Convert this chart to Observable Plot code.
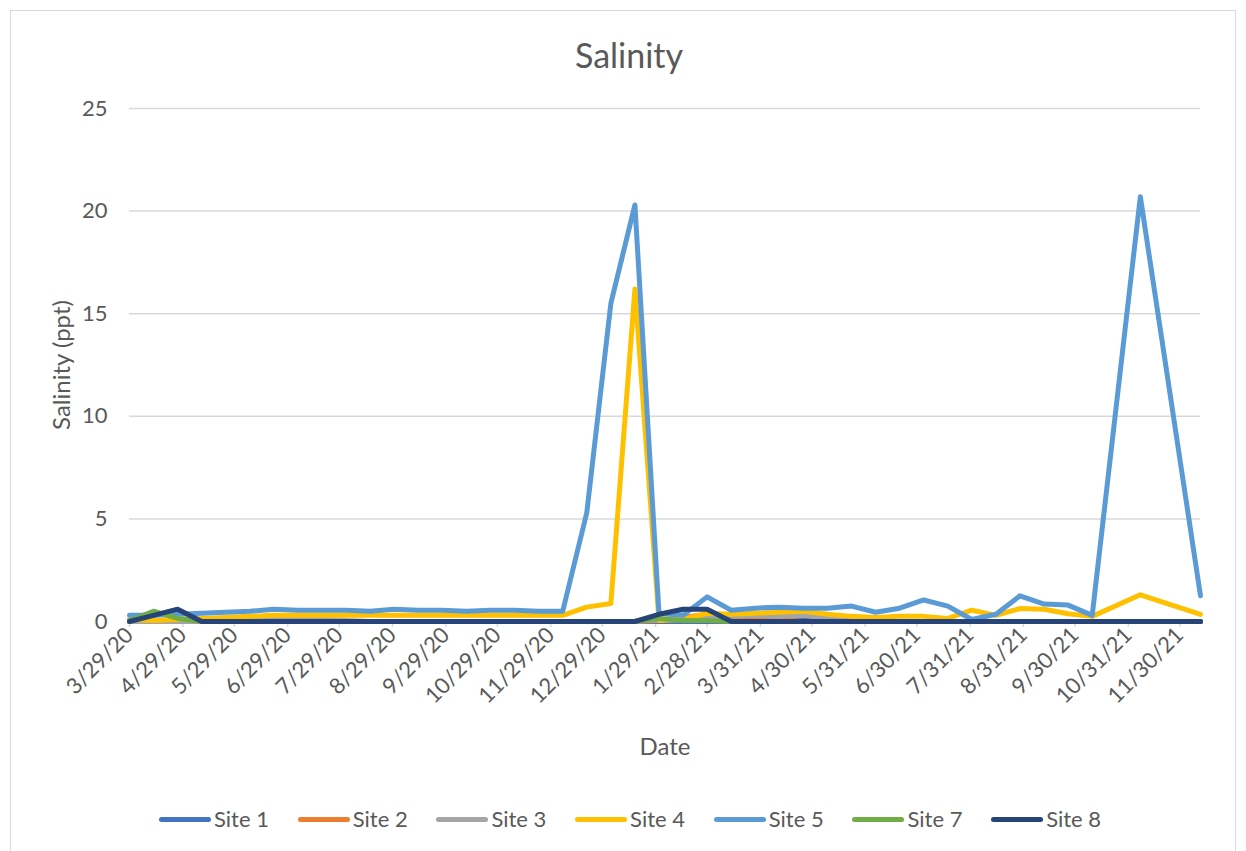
<!DOCTYPE html>
<html><head><meta charset="utf-8">
<script src="https://cdn.jsdelivr.net/npm/d3@7"></script>
<script src="https://cdn.jsdelivr.net/npm/@observablehq/plot@0.6"></script>
<style>
html,body{margin:0;padding:0;background:#fff;width:1246px;height:851px;overflow:hidden;font-family:Lato,"Open Sans",sans-serif;}
#frame{position:absolute;left:10px;top:10px;width:1226px;height:870px;border:1px solid #d9d9d9;box-sizing:border-box;}
#title{position:absolute;left:10px;width:1238px;top:33px;text-align:center;font-size:34px;color:#595959;line-height:44px;}
#chart{position:absolute;left:0;top:80px;}
#legend{position:absolute;left:159px;top:806px;display:flex;}
.item{width:138.7px;display:flex;align-items:center;font-size:22px;color:#595959;line-height:26px;}
.sw{width:52px;height:5px;border-radius:3px;margin-right:3px;}
</style></head>
<body>
<div id="frame"></div>
<div id="title">Salinity</div>
<div id="chart"></div>
<div id="legend"></div>
<script>
const sites = ["Site 1","Site 2","Site 3","Site 4","Site 5","Site 7","Site 8"];
const colors = ["#4472C4","#ED7D31","#A5A5A5","#FFC000","#5B9BD5","#70AD47","#264478"];
const dates = ["2020-03-29","2020-04-12","2020-04-26","2020-05-10","2020-05-24","2020-06-07","2020-06-21","2020-07-05","2020-07-19","2020-08-02","2020-08-16","2020-08-30","2020-09-13","2020-09-27","2020-10-11","2020-10-25","2020-11-08","2020-11-22","2020-12-06","2020-12-20","2021-01-03","2021-01-17","2021-01-31","2021-02-14","2021-02-28","2021-03-14","2021-03-28","2021-04-11","2021-04-25","2021-05-09","2021-05-23","2021-06-06","2021-06-20","2021-07-04","2021-07-18","2021-08-01","2021-08-15","2021-08-29","2021-09-12","2021-09-26","2021-10-10","2021-11-07","2021-12-12"];
const site1 = [0,0,0,0,0,0,0.05,0.05,0,0,0,0,0,0,0,0,0,0,0,0,0,0,0,0,0,0,0.15,0.3,0.15,0.05,0,0,0,0,0,0,0,0,0,0,0,0,0];
const site2 = [0,0,0,0,0,0,0,0,0,0,0,0,0,0,0,0,0,0,0,0,0,0,0.05,0.2,0.35,0.2,0.15,0.1,0,0,0,0,0,0,0,0,0,0,0,0,0,0,0];
const site3 = [0,0,0,0,0,0.05,0.15,0.15,0.1,0.05,0,0,0,0,0,0,0,0,0,0,0,0,0.1,0.15,0.2,0.25,0.3,0.25,0.3,0.15,0.05,0,0,0,0,0,0,0,0,0,0,0,0];
const site4 = [0.1,0.05,0.1,0.15,0.2,0.25,0.3,0.3,0.3,0.3,0.3,0.3,0.3,0.3,0.3,0.3,0.3,0.3,0.3,0.7,0.88,16.2,0.05,0.1,0.4,0.35,0.4,0.45,0.5,0.35,0.25,0.2,0.25,0.25,0.15,0.55,0.3,0.63,0.6,0.38,0.25,1.3,0.35];
const site5 = [0.3,0.3,0.35,0.4,0.45,0.5,0.6,0.55,0.55,0.55,0.5,0.6,0.55,0.55,0.5,0.55,0.55,0.5,0.5,5.3,15.5,20.3,0.4,0.3,1.2,0.55,0.65,0.7,0.65,0.65,0.75,0.45,0.65,1.05,0.75,0.1,0.35,1.25,0.85,0.8,0.3,20.7,1.25];
const site7 = [0.05,0.5,0.15,0,0,0,0,0,0,0,0,0,0,0,0,0,0,0,0,0,0,0,0.15,0.05,0.05,0,0,0,0,0,0,0,0,0,0,0,0,0,0,0,0,0,0];
const site8 = [0,0.3,0.6,0,0,0,0,0,0,0,0,0,0,0,0,0,0,0,0,0,0,0,0.35,0.6,0.6,0,0,0,0,0,0,0,0,0,0,0,0,0,0,0,0,0,0];
const tickDates = ["2020-03-29","2020-04-29","2020-05-29","2020-06-29","2020-07-29","2020-08-29","2020-09-29","2020-10-29","2020-11-29","2020-12-29","2021-01-29","2021-02-28","2021-03-31","2021-04-30","2021-05-31","2021-06-30","2021-07-31","2021-08-31","2021-09-30","2021-10-31","2021-11-30"];
const yTicks = [0,5,10,15,20,25];

const series = [site1,site2,site3,site4,site5,site7,site8];
const parse = s => new Date(s + "T00:00:00Z");
const table = [];
series.forEach((vals,i) => vals.forEach((v,j) => table.push({site: sites[i], date: parse(dates[j]), value: v})));
const fmt = d => `${d.getUTCMonth()+1}/${d.getUTCDate()}/${String(d.getUTCFullYear()).slice(2)}`;

const chart = Plot.plot({
  width: 1246, height: 700,
  marginLeft: 129, marginRight: 46, marginTop: 28, marginBottom: 159,
  style: {fontFamily: "Lato, 'Open Sans', sans-serif", fontSize: "22px", color: "#595959", background: "transparent", overflow: "visible"},
  x: {type: "utc", domain: [parse(dates[0]), parse(dates[dates.length-1])]},
  y: {domain: [0, 25]},
  color: {domain: sites, range: colors},
  marks: [
    Plot.gridY(yTicks, {stroke: "#d9d9d9", strokeOpacity: 1, strokeWidth: 1.5}),
    Plot.ruleY([0], {stroke: "#d9d9d9", strokeWidth: 1.5}),
    Plot.axisY(yTicks, {tickSize: 0, tickPadding: 22, label: null, fontSize: 22}),
    Plot.axisX(tickDates.map(parse), {tickSize: 6, stroke: "#d9d9d9", strokeWidth: 1.5, tickRotate: -45, tickFormat: fmt, label: null, tickPadding: 4, fontSize: 22, fill: "#595959"}),
    Plot.line(table, {x: "date", y: "value", z: "site", stroke: "site", strokeWidth: 5, strokeLinejoin: "round", strokeLinecap: "round"}),
    Plot.text(["Salinity (ppt)"], {frameAnchor: "left", dx: -67, rotate: -90, textAnchor: "middle", lineAnchor: "middle", fontSize: 24, fill: "#595959"}),
    Plot.text(["Date"], {frameAnchor: "bottom", dy: 126, textAnchor: "middle", lineAnchor: "middle", fontSize: 24, fill: "#595959"})
  ]
});
document.getElementById("chart").appendChild(chart);

const legend = document.getElementById("legend");
sites.forEach((s,i) => {
  const it = document.createElement("div"); it.className = "item";
  const sw = document.createElement("span"); sw.className = "sw"; sw.style.background = colors[i];
  const tx = document.createElement("span"); tx.textContent = s;
  it.appendChild(sw); it.appendChild(tx); legend.appendChild(it);
});
</script>
</body></html>
